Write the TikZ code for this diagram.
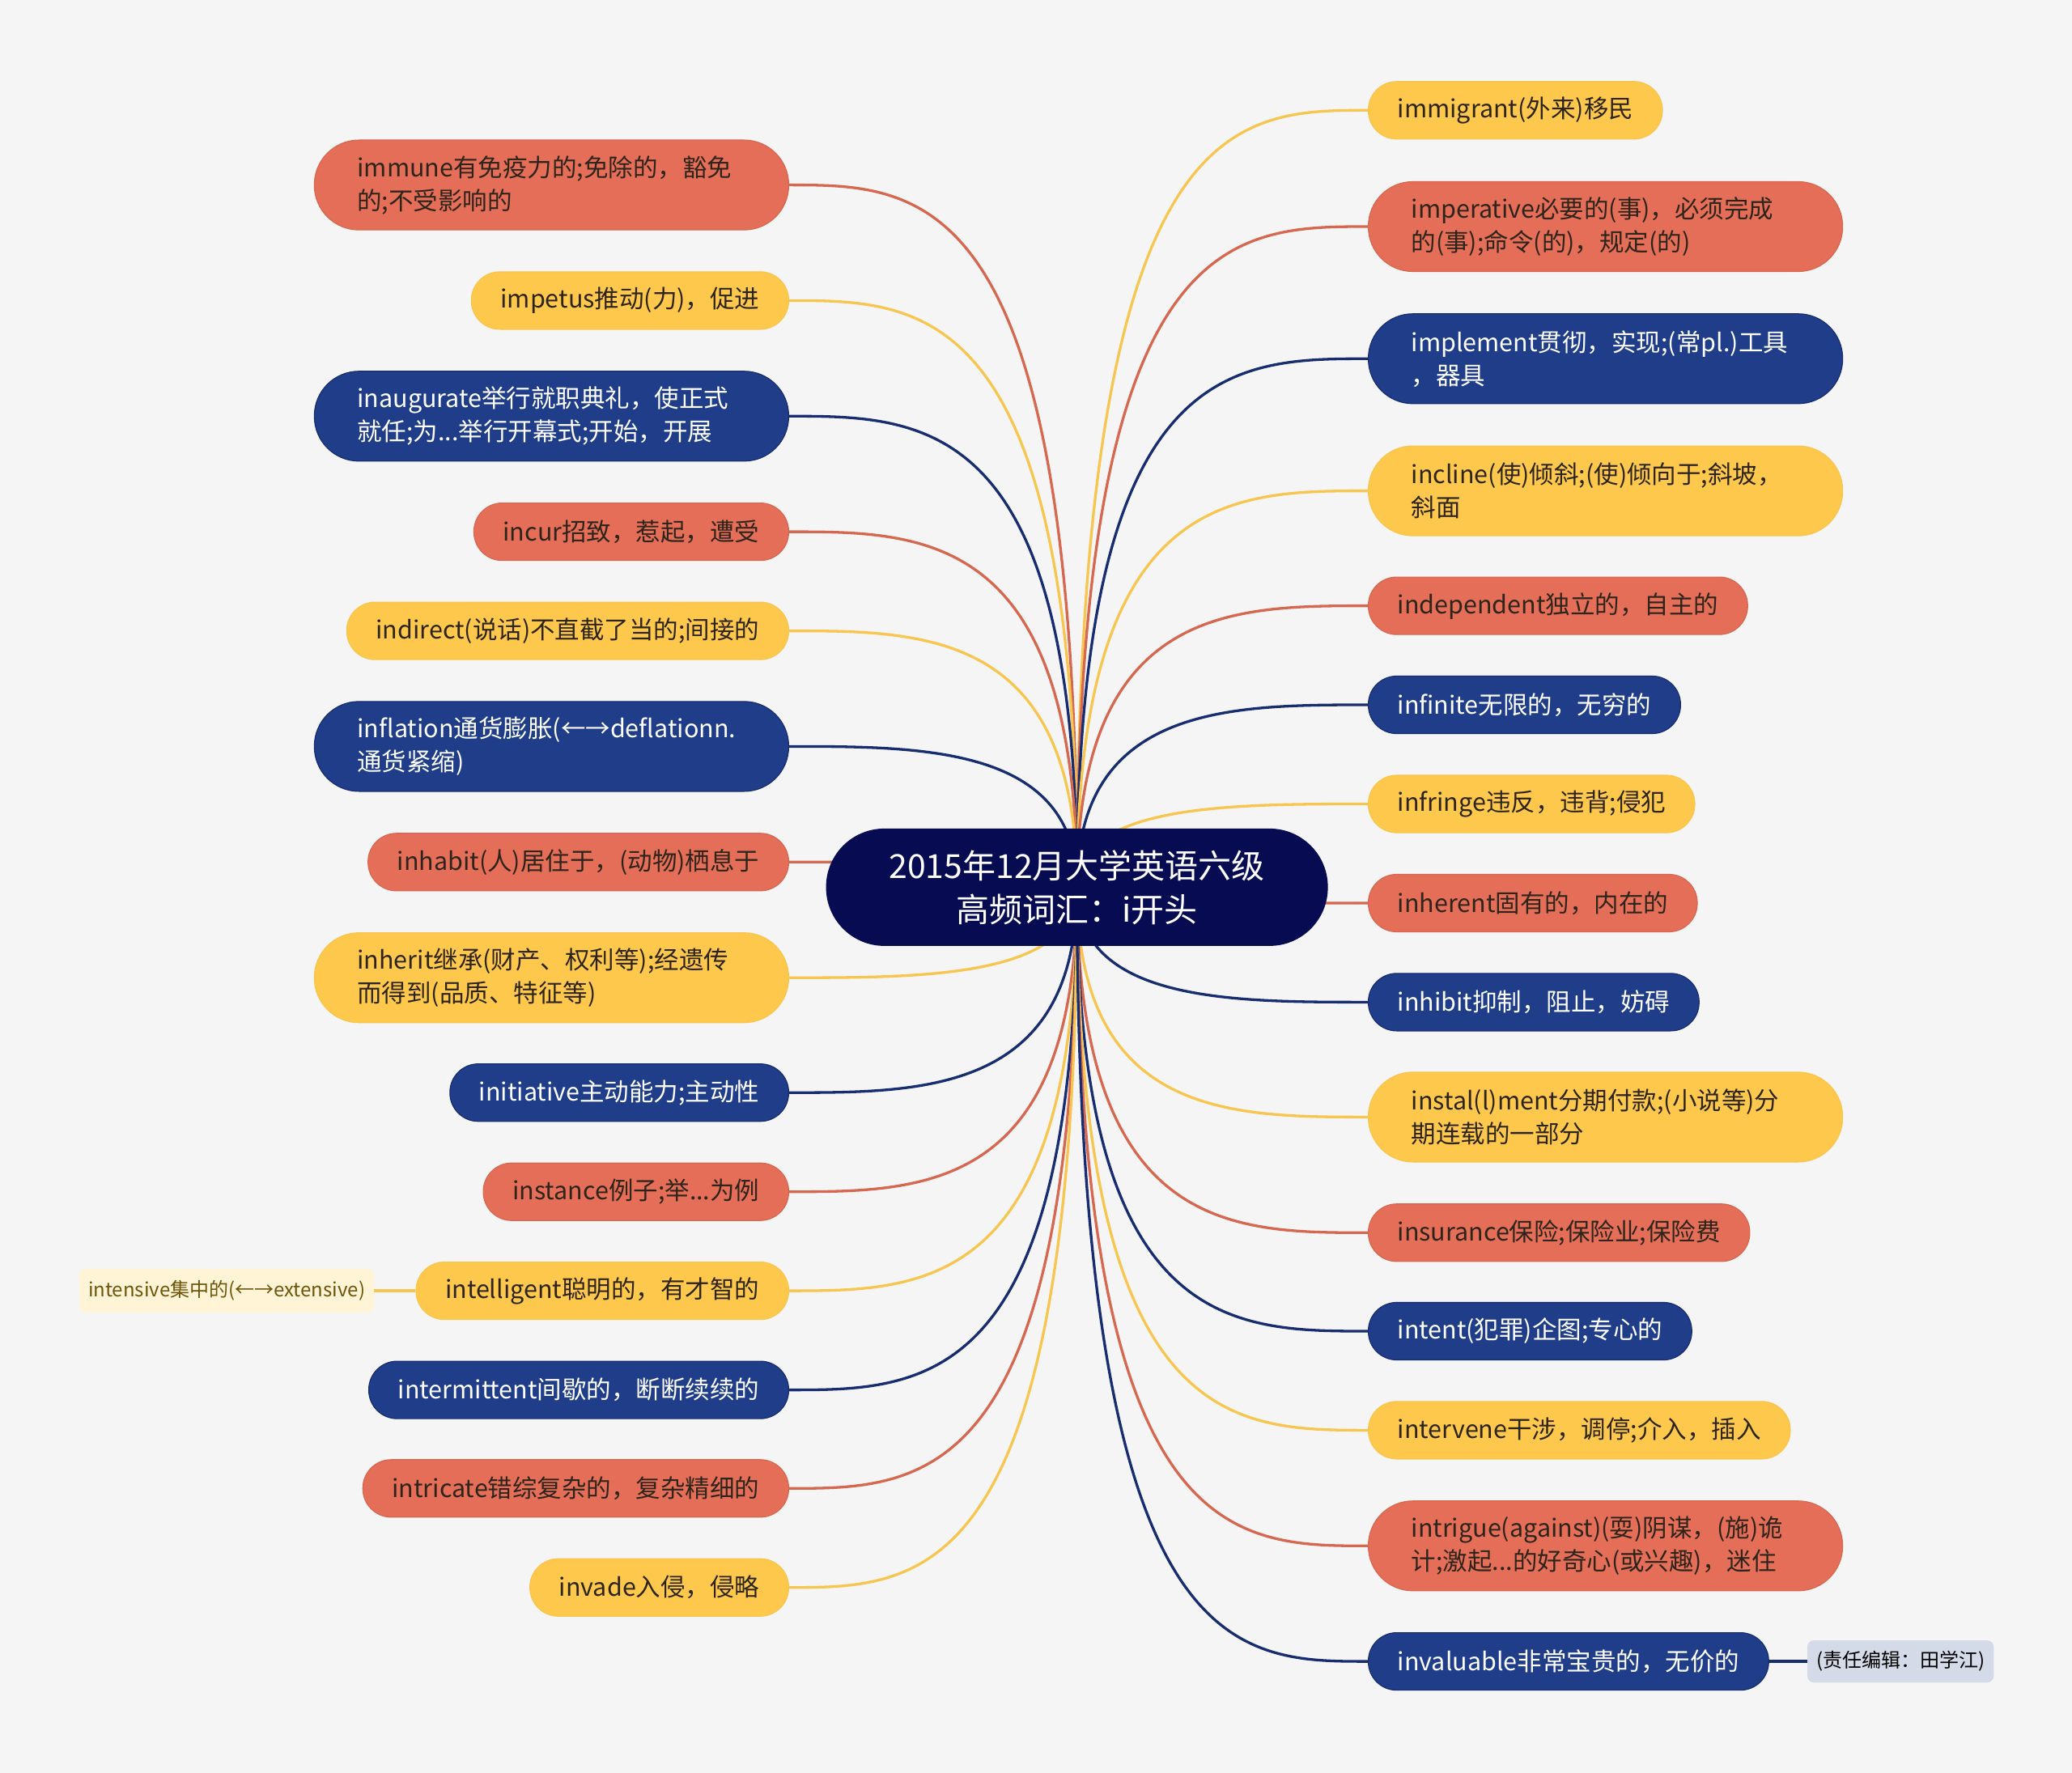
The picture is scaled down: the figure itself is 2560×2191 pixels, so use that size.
\documentclass[tikz,border=0pt]{standalone}
\usepackage{fontspec}
\setmainfont{Noto Sans CJK SC}
\usepackage{tikz}
\usetikzlibrary{positioning, calc, backgrounds}
\definecolor{bgcol}{RGB}{245,245,245}
\definecolor{myroot}{RGB}{7,12,82}
\definecolor{myred}{RGB}{229,110,88}
\definecolor{myyellow}{RGB}{253,200,75}
\definecolor{myblue}{RGB}{32,61,137}
\definecolor{edgered}{RGB}{214,104,82}
\definecolor{edgeyellow}{RGB}{246,198,80}
\definecolor{edgeblue}{RGB}{24,44,112}
\definecolor{mytext}{RGB}{45,36,28}
\definecolor{notefill}{RGB}{255,245,214}
\definecolor{notetext}{RGB}{112,84,12}
\definecolor{tagfill}{RGB}{213,218,232}
\tikzset{
  leaf/.style={rectangle, font=\fontsize{30.5}{41}\selectfont,
    minimum height=71pt, rounded corners=35pt, inner xsep=36pt, line width=1.2pt},
  twoline/.style={text width=480pt, align=left, minimum height=111pt,
    rounded corners=55pt, inner xsep=53pt},
  redblock/.style={leaf, fill=myred, draw=edgered, text=mytext},
  yellowblock/.style={leaf, fill=myyellow, draw=edgeyellow, text=mytext},
  blueblock/.style={leaf, fill=myblue, draw=edgeblue, text=white},
  rootblock/.style={rectangle, fill=myroot, text=white, align=center,
    font=\fontsize{41}{54}\selectfont, minimum width=620pt, minimum height=145pt,
    rounded corners=72pt},
  noteblock/.style={rectangle, fill=notefill, text=notetext,
    font=\fontsize{24}{28}\selectfont, minimum height=54pt, rounded corners=8pt, inner xsep=11pt},
  tagblock/.style={rectangle, fill=tagfill, text=black,
    font=\fontsize{24}{28}\selectfont, minimum height=52pt, rounded corners=8pt, inner xsep=11pt},
  branch/.style={line width=3.3pt}
}
\begin{document}
\begin{tikzpicture}[x=1pt, y=-1pt]
  \begin{scope}[on background layer]
    \fill[bgcol] (0,0) rectangle (2560,2191);
  \end{scope}

  % Root
  \node[rootblock] (root) at (1330.6,1096.4) {2015年12月大学英语六级\\高频词汇：i开头};

  % Left branches
  \node[redblock, twoline, anchor=east] (immune) at (975,228.6) {immune有免疫力的;免除的，豁免\\的;不受影响的};
  \node[yellowblock, anchor=east] (impetus) at (975,371.4) {impetus推动(力)，促进};
  \node[blueblock, twoline, anchor=east] (inaugurate) at (975,514.3) {inaugurate举行就职典礼，使正式\\就任;为...举行开幕式;开始，开展};
  \node[redblock, anchor=east] (incur) at (975,657.1) {incur招致，惹起，遭受};
  \node[yellowblock, anchor=east] (indirect) at (975,779.6) {indirect(说话)不直截了当的;间接的};
  \node[blueblock, twoline, anchor=east] (inflation) at (975,922.4) {inflation通货膨胀(←→deflationn.\\通货紧缩)};
  \node[redblock, anchor=east] (inhabit) at (975,1065.3) {inhabit(人)居住于，(动物)栖息于};
  \node[yellowblock, twoline, anchor=east] (inherit) at (975,1208.2) {inherit继承(财产、权利等);经遗传\\而得到(品质、特征等)};
  \node[blueblock, anchor=east] (initiative) at (975,1350.2) {initiative主动能力;主动性};
  \node[redblock, anchor=east] (instance) at (975,1472.7) {instance例子;举...为例};
  \node[yellowblock, anchor=east] (intelligent) at (975,1595.1) {intelligent聪明的，有才智的};
  \node[blueblock, anchor=east] (intermittent) at (975,1717.6) {intermittent间歇的，断断续续的};
  \node[redblock, anchor=east] (intricate) at (975,1839.3) {intricate错综复杂的，复杂精细的};
  \node[yellowblock, anchor=east] (invade) at (975,1961.7) {invade入侵，侵略};

  % Right branches
  \node[yellowblock, anchor=west] (immigrant) at (1690,136.3) {immigrant(外来)移民};
  \node[redblock, twoline, anchor=west] (imperative) at (1690,280.0) {imperative必要的(事)，必须完成\\的(事);命令(的)，规定(的)};
  \node[blueblock, twoline, anchor=west] (implement) at (1690,443.3) {implement贯彻，实现;(常pl.)工具\\，器具};
  \node[yellowblock, twoline, anchor=west] (incline) at (1690,606.6) {incline(使)倾斜;(使)倾向于;斜坡，\\斜面};
  \node[redblock, anchor=west] (independent) at (1690,748.6) {independent独立的，自主的};
  \node[blueblock, anchor=west] (infinite) at (1690,871.0) {infinite无限的，无穷的};
  \node[yellowblock, anchor=west] (infringe) at (1690,993.5) {infringe违反，违背;侵犯};
  \node[redblock, anchor=west] (inherent) at (1690,1116.0) {inherent固有的，内在的};
  \node[blueblock, anchor=west] (inhibit) at (1690,1238.4) {inhibit抑制，阻止，妨碍};
  \node[yellowblock, twoline, anchor=west] (installment) at (1690,1380.4) {instal(l)ment分期付款;(小说等)分\\期连载的一部分};
  \node[redblock, anchor=west] (insurance) at (1690,1523.3) {insurance保险;保险业;保险费};
  \node[blueblock, anchor=west] (intent) at (1690,1645.0) {intent(犯罪)企图;专心的};
  \node[yellowblock, anchor=west] (intervene) at (1690,1767.4) {intervene干涉，调停;介入，插入};
  \node[redblock, twoline, anchor=west] (intrigue) at (1690,1910.3) {intrigue(against)(耍)阴谋，(施)诡\\计;激起...的好奇心(或兴趣)，迷住};
  \node[blueblock, anchor=west] (invaluable) at (1690,2053.1) {invaluable非常宝贵的，无价的};

  % Side notes
  \node[noteblock, left=51pt of intelligent] (intensive) {intensive集中的(←→extensive)};
  \node[tagblock, right=47pt of invaluable] (editor) {(责任编辑：田学江)};

  % Connectors
  \begin{scope}[on background layer]
    \foreach \n/\c in {immune/edgered, impetus/edgeyellow, inaugurate/edgeblue,
        incur/edgered, indirect/edgeyellow, inflation/edgeblue, inhabit/edgered,
        inherit/edgeyellow, initiative/edgeblue, instance/edgered,
        intelligent/edgeyellow, intermittent/edgeblue, intricate/edgered, invade/edgeyellow}
      \draw[branch, draw=\c] (root.center) .. controls (root.center |- \n.east)
        and ($(\n.east)!0.47!(root.center |- \n.east)$) .. (\n.east);
    \foreach \n/\c in {immigrant/edgeyellow, imperative/edgered, implement/edgeblue,
        incline/edgeyellow, independent/edgered, infinite/edgeblue, infringe/edgeyellow,
        inherent/edgered, inhibit/edgeblue, installment/edgeyellow, insurance/edgered,
        intent/edgeblue, intervene/edgeyellow, intrigue/edgered, invaluable/edgeblue}
      \draw[branch, draw=\c] (root.center) .. controls (root.center |- \n.west)
        and ($(\n.west)!0.47!(root.center |- \n.west)$) .. (\n.west);
    \draw[branch, draw=edgeyellow] (intelligent.west) -- (intensive.east);
    \draw[branch, draw=edgeblue] (invaluable.east) -- (editor.west);
  \end{scope}
\end{tikzpicture}
\end{document}
